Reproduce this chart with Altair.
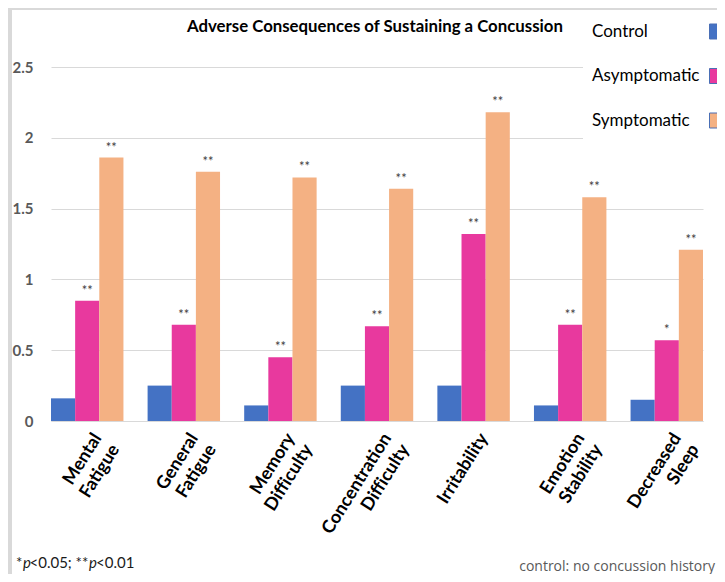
import altair as alt
import pandas as pd

categories = ["Mental Fatigue", "General Fatigue", "Memory Difficulty",
              "Concentration Difficulty", "Irritability", "Emotion Stability",
              "Decreased Sleep"]
series = ["Control", "Asymptomatic", "Symptomatic"]
control = [0.16, 0.25, 0.11, 0.25, 0.25, 0.11, 0.15]
asymptomatic = [0.85, 0.68, 0.45, 0.67, 1.32, 0.68, 0.57]
symptomatic = [1.86, 1.76, 1.72, 1.64, 2.18, 1.58, 1.21]
control_sig = ["", "", "", "", "", "", ""]
asym_sig = ["**", "**", "**", "**", "**", "**", "*"]
symp_sig = ["**", "**", "**", "**", "**", "**", "**"]
colors = ["#4472C4", "#E8399E", "#F4B183"]
y_ticks = [0, 0.5, 1, 1.5, 2, 2.5]

rows = []
for s, vals, sigs in zip(series, [control, asymptomatic, symptomatic],
                         [control_sig, asym_sig, symp_sig]):
    for c, v, g in zip(categories, vals, sigs):
        rows.append({"category": c, "series": s, "value": v, "sig": g})
df = pd.DataFrame(rows)
leg_df = pd.DataFrame({"series": series})
one = pd.DataFrame({"a": [0]})

ZWNJ = "\u200c"
label_expr = "split(replace(datum.label, 'ffi', 'ff" + ZWNJ + "i'), ' ')"

x = alt.X("category:N", sort=categories, title=None,
          scale=alt.Scale(paddingInner=0.25, paddingOuter=0),
          axis=alt.Axis(labelAngle=-58, labelAlign="right", labelBaseline="top",
                        labelExpr=label_expr, labelFont="Lato",
                        labelFontWeight="bold", labelFontSize=18, labelColor="#000000",
                        labelPadding=9, labelOffset=3, labelLineHeight=21,
                        labelLimit=400, ticks=False, tickSize=0, grid=False,
                        domainColor="#d9d9d9", domainWidth=1))
xo = alt.XOffset("series:N", sort=series)
yscale = alt.Scale(domain=[0, 2.5], nice=False)
y = alt.Y("value:Q", title=None, scale=yscale,
          axis=alt.Axis(values=y_ticks, labelExpr="datum.value + ''", grid=True,
                        gridColor="#d9d9d9", gridWidth=1, domain=False, ticks=False,
                        labelPadding=18, labelFont="Lato", labelFontWeight="bold",
                        labelFontSize=15, labelColor="#595959"))
y_noaxis = alt.Y("value:Q", title=None, scale=yscale, axis=None)
color = alt.Color("series:N", sort=series,
                  scale=alt.Scale(domain=series, range=colors), legend=None)

bars = alt.Chart(df).mark_bar().encode(x=x, xOffset=xo, y=y, color=color)
stars = alt.Chart(df).mark_text(font="Lato", fontSize=13, color="#404040",
                                baseline="alphabetic", dy=-6).encode(
    x=x, xOffset=xo, y=y_noaxis, text="sig:N")

leg_bg = alt.Chart(one).mark_rect(color="white").encode(
    x=alt.value(532), x2=alt.value(700), y=alt.value(-58), y2=alt.value(98))
leg_y = alt.Y("series:N", sort=series, axis=None,
              scale=alt.Scale(domain=series, range=[-35.5, 53.5], padding=0))
leg_text = alt.Chart(leg_df).mark_text(align="left", baseline="middle", font="Lato",
                                       fontSize=17, color="#000000").encode(
    x=alt.value(541), y=leg_y, text="series:N")
leg_sq = alt.Chart(leg_df).mark_square(size=225, opacity=1, stroke="#4a6fb5",
                                       strokeWidth=1).encode(
    x=alt.value(666), y=leg_y, color=color)

strip_left = alt.Chart(one).mark_rect(color="#d9d9d9").encode(
    x=alt.value(-43), x2=alt.value(-39), y=alt.value(-59), y2=alt.value(520))
strip_top = alt.Chart(one).mark_rect(color="#d9d9d9").encode(
    x=alt.value(-43), x2=alt.value(700), y=alt.value(-59), y2=alt.value(-57))

title = alt.Chart(one).mark_text(text="Adverse Consequences of Sustaining a Concussion",
                                 align="left", baseline="middle", font="Lato",
                                 fontWeight="bold", fontSize=16.8, color="#000000").encode(
    x=alt.value(136), y=alt.value(-40))

def foot(t, px, italic=False):
    kw = dict(text=t, align="left", baseline="middle", font="Lato", fontSize=15,
              color="#1a1a1a")
    if italic:
        kw["fontStyle"] = "italic"
    return alt.Chart(one).mark_text(**kw).encode(x=alt.value(px), y=alt.value(496))

f1 = foot("*", -35)
f2 = foot("p", -28, True)
f3 = foot("<0.05; **", -21.5)
f4 = foot("p", 38, True)
f5 = foot("<0.01", 45)
note = alt.Chart(one).mark_text(text="control: no concussion history", align="right",
                                baseline="middle", font="Open Sans", fontSize=14,
                                color="#595959").encode(
    x=alt.value(664), y=alt.value(500))

chart = alt.layer(bars, stars, leg_bg, leg_text, leg_sq, strip_left, strip_top,
                  title, f1, f2, f3, f4, f5, note).resolve_scale(
    y="independent").properties(
    width=652, height=354,
    autosize=alt.AutoSizeParams(type="none"),
    padding={"left": 43, "top": 59, "right": 14, "bottom": 153},
    background="white").configure_view(stroke=None)

chart.save("out.html", embed_options={"renderer": "svg", "actions": False})
